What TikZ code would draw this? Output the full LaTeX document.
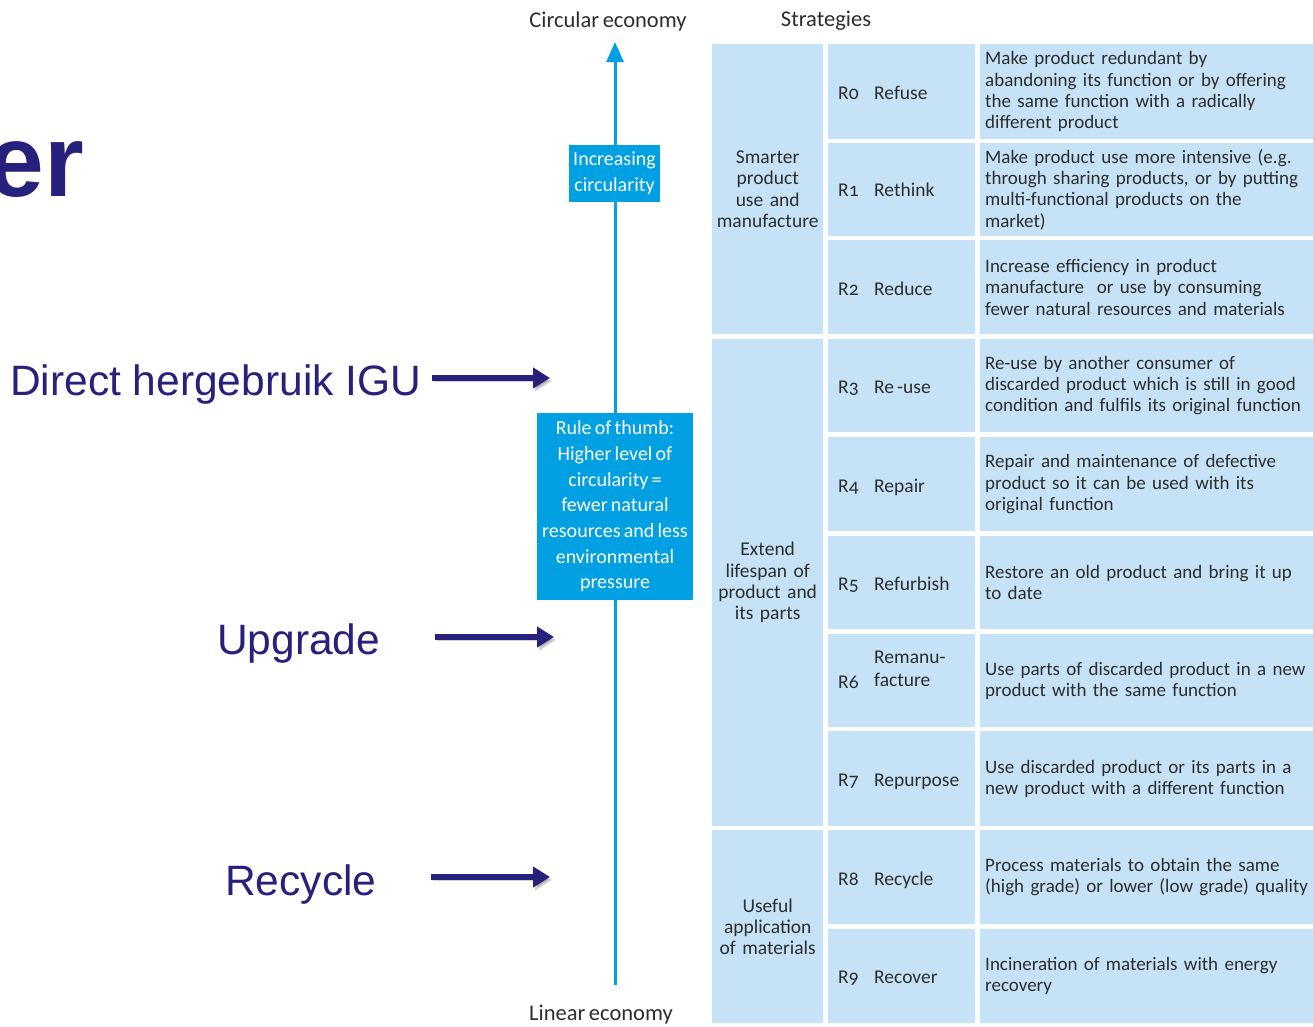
\documentclass[tikz,border=0pt]{standalone}
\usepackage{fontspec}
\setmainfont{Carlito}[WordSpace={0.7}]
\newfontfamily\osf{Carlito}[Numbers=OldStyle]
\newfontfamily\arialf{Liberation Sans}
\usetikzlibrary{arrows.meta}
\definecolor{cellblue}{RGB}{198,226,247}
\definecolor{boxblue}{RGB}{0,160,227}
\definecolor{navy}{RGB}{40,32,125}
\definecolor{txt}{RGB}{45,45,45}
\tikzset{
  cellfill/.style={fill=cellblue, draw=none, inner sep=0pt, anchor=north west, text=txt,
    font=\fontsize{19.5}{21.3}\selectfont},
  groupcell/.style={cellfill, minimum width=111pt, text width=111pt, align=center},
  rcell/.style={cellfill, minimum width=147pt},
  desccell/.style={cellfill, inner xsep=5pt, text width=400pt, align=left,
    font=\fontsize{19}{21.3}\selectfont},
  rnum/.style={anchor=mid west, inner sep=0pt, text=txt, font=\osf\fontsize{19.5}{21.3}\selectfont},
  rname/.style={anchor=mid west, inner sep=0pt, text=txt, align=left, font=\fontsize{19.5}{22.5}\selectfont},
  headlabel/.style={inner sep=0pt, text=txt, font=\fontsize{22.5}{24}\selectfont},
  bluebox/.style={fill=boxblue, draw=none, text=white, inner sep=0pt, align=center,
    font=\fontsize{20}{25.7}\selectfont},
  axisline/.style={draw=boxblue, line width=3pt, -{Triangle[length=20pt,width=17pt]}},
  leftlabel/.style={anchor=base west, inner sep=0pt, text=navy, font=\arialf\fontsize{42.5}{46}\selectfont},
  pointer/.style={draw=navy, line width=5.5pt, -{Triangle[length=17pt,width=20pt]},
    preaction={draw=black, opacity=0.18, transform canvas={shift={(2pt,-3pt)}}}}
}
\begin{document}
\begin{tikzpicture}[x=1pt,y=-1pt]
\useasboundingbox (0,0) rectangle (1313,1026);
\fill[white] (0,0) rectangle (1313,1026);

% title fragment
\node[anchor=base east, inner sep=0pt, text=navy, font=\arialf\bfseries\fontsize{102}{102}\selectfont] (title) at (84,196) {er};

% axis
\coordinate (axbot) at (615,985);
\coordinate (axtop) at (615,42);
\draw[axisline] (axbot) -- (axtop);
\node[headlabel] (circ) at (608,21) {Circular economy};
\node[headlabel] (strat) at (826,21) {Strategies};
\node[headlabel] (lin) at (601,1015) {Linear economy};

\node[bluebox, minimum width=91pt, minimum height=57pt] (incr) at (614.5,173.5) {Increasing\\circularity};
\node[bluebox, minimum width=156pt, minimum height=187pt] (rule) at (615,506.5)
  {Rule of thumb:\\Higher level of\\circularity =\\fewer natural\\resources and less\\environmental\\pressure};

% left labels and pointers
\node[leftlabel] (lab1) at (10,395) {Direct hergebruik IGU};
\node[leftlabel] (lab2) at (217,654) {Upgrade};
\node[leftlabel] (lab3) at (225,895) {Recycle};
\coordinate (p1s) at (432,378); \coordinate (p1e) at (550,378);
\coordinate (p2s) at (435,637); \coordinate (p2e) at (554,637);
\coordinate (p3s) at (431,877); \coordinate (p3e) at (550,877);
\draw[pointer] (p1s) -- (p1e);
\draw[pointer] (p2s) -- (p2e);
\draw[pointer] (p3s) -- (p3e);

% group cells
\node[groupcell, minimum height=290pt] (g1) at (712,44) {Smarter\\product\\use and\\manufacture};
\node[groupcell, minimum height=487pt] (g2) at (712,339) {Extend\\lifespan of\\product and\\its parts};
\node[groupcell, minimum height=193pt] (g3) at (712,830) {Useful\\application\\of materials};

% R cells
\node[rcell, minimum height=95pt] (c0) at (828,44) {};
\node[rcell, minimum height=93pt] (c1) at (828,143) {};
\node[rcell, minimum height=94pt] (c2) at (828,240) {};
\node[rcell, minimum height=93pt] (c3) at (828,339) {};
\node[rcell, minimum height=94pt] (c4) at (828,437) {};
\node[rcell, minimum height=93pt] (c5) at (828,536) {};
\node[rcell, minimum height=93pt] (c6) at (828,634) {};
\node[rcell, minimum height=95pt] (c7) at (828,731) {};
\node[rcell, minimum height=94pt] (c8) at (828,830) {};
\node[rcell, minimum height=94pt] (c9) at (828,929) {};

\node[rnum] (n0) at (838,97) {R0};  \node[rname] (m0) at (874,97) {Refuse};
\node[rnum] (n1) at (838,194) {R1}; \node[rname] (m1) at (874,194) {Rethink};
\node[rnum] (n2) at (838,293) {R2}; \node[rname] (m2) at (874,293) {Reduce};
\node[rnum] (n3) at (838,391) {R3}; \node[rname] (m3) at (874,391) {Re -use};
\node[rnum] (n4) at (838,490) {R4}; \node[rname] (m4) at (874,490) {Repair};
\node[rnum] (n5) at (838,588) {R5}; \node[rname] (m5) at (874,588) {Refurbish};
\node[rnum] (n6) at (838,686) {R6}; \node[rname] (m6) at (874,684) {Remanu-\\facture};
\node[rnum] (n7) at (838,784) {R7}; \node[rname] (m7) at (874,784) {Repurpose};
\node[rnum] (n8) at (838,883) {R8}; \node[rname] (m8) at (874,883) {Recycle};
\node[rnum] (n9) at (838,981) {R9}; \node[rname] (m9) at (874,981) {Recover};

% description cells
\node[desccell, minimum height=95pt] (d0) at (980,44) {Make product redundant by\\abandoning its function or by offering\\the same function with a radically\\different product};
\node[desccell, minimum height=93pt] (d1) at (980,143) {Make product use more intensive (e.g.\\through sharing products, or by putting\\multi-functional products on the\\market)};
\node[desccell, minimum height=94pt] (d2) at (980,240) {Increase efficiency in product\\manufacture\ \ or use by consuming\\fewer natural resources and materials};
\node[desccell, minimum height=93pt] (d3) at (980,339) {Re-use by another consumer of\\discarded product which is still in good\\condition and fulfils its original function};
\node[desccell, minimum height=94pt] (d4) at (980,437) {Repair and maintenance of defective\\product so it can be used with its\\original function};
\node[desccell, minimum height=93pt] (d5) at (980,536) {Restore an old product and bring it up\\to date};
\node[desccell, minimum height=93pt] (d6) at (980,634) {Use parts of discarded product in a new\\product with the same function};
\node[desccell, minimum height=95pt] (d7) at (980,731) {Use discarded product or its parts in a\\new product with a different function};
\node[desccell, minimum height=94pt] (d8) at (980,830) {Process materials to obtain the same\\(high grade) or lower (low grade) quality};
\node[desccell, minimum height=94pt] (d9) at (980,929) {Incineration of materials with energy\\recovery};
\end{tikzpicture}
\end{document}
